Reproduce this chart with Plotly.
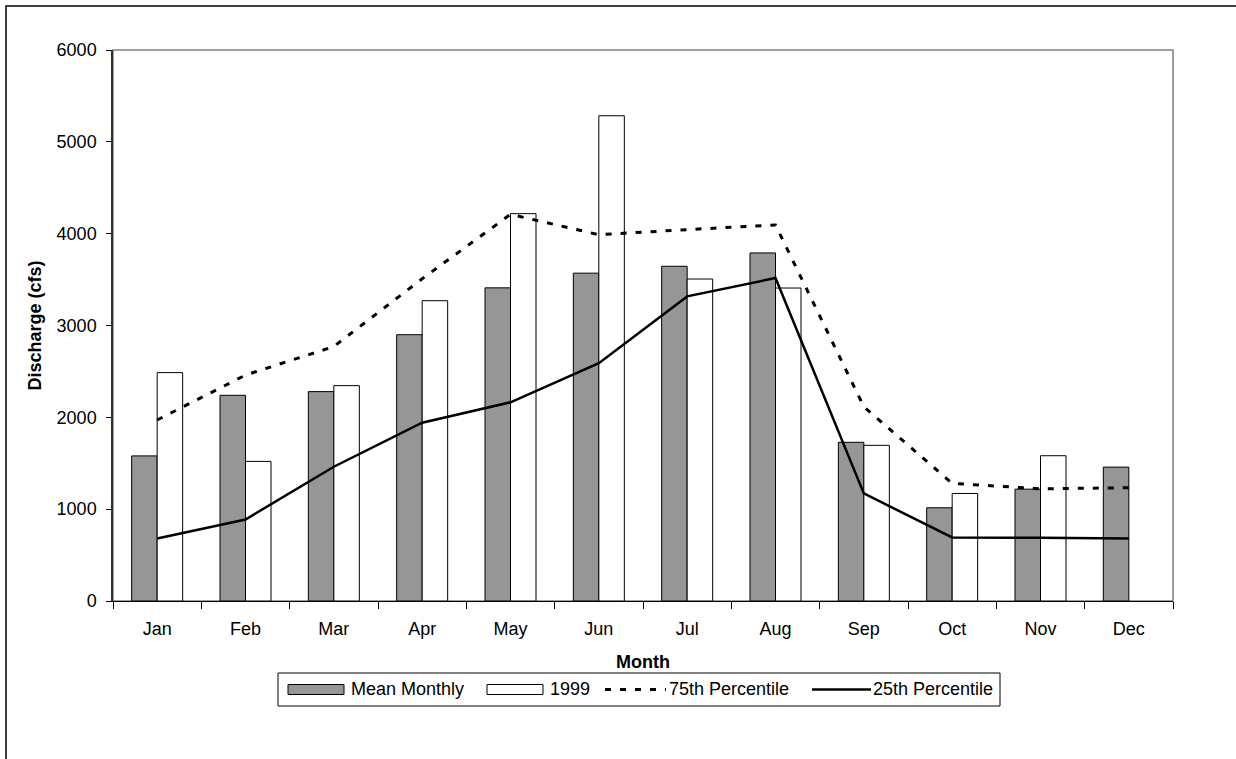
import plotly.graph_objects as go

months = ["Jan", "Feb", "Mar", "Apr", "May", "Jun", "Jul", "Aug", "Sep", "Oct", "Nov", "Dec"]
mean_monthly = [1580, 2240, 2280, 2900, 3410, 3570, 3645, 3790, 1728, 1015, 1218, 1458]
y1999 = [2487, 1520, 2345, 3270, 4218, 5284, 3506, 3408, 1695, 1171, 1582, None]
p75 = [1971, 2460, 2771, 3509, 4210, 3989, 4044, 4095, 2115, 1281, 1222, 1233]
p25 = [680, 888, 1462, 1942, 2164, 2590, 3317, 3517, 1171, 692, 688, 680]

font_family = "Liberation Sans, Arial, sans-serif"
FS = 18

# figure geometry (pixels)
W, H = 1236, 759
ML, MR, MT, MB = 113, 63, 50, 158
PW, PH = W - ML - MR, H - MT - MB


def px(x):
    return (x - ML) / PW


def py(y):
    return (H - MB - y) / PH


fig = go.Figure()
fig.add_trace(go.Bar(x=months, y=mean_monthly, name="Mean Monthly",
                     marker=dict(color="#969696", line=dict(color="#000000", width=1))))
fig.add_trace(go.Bar(x=months, y=y1999, name="1999",
                     marker=dict(color="#ffffff", line=dict(color="#000000", width=1))))
fig.add_trace(go.Scatter(x=months, y=p75, name="75th Percentile", mode="lines",
                         line=dict(color="#000000", width=3, dash="6px,9px")))
fig.add_trace(go.Scatter(x=months, y=p25, name="25th Percentile", mode="lines",
                         line=dict(color="#000000", width=2.5)))

# custom legend (Excel-style long swatches)
ly0, ly1 = 673, 706
lyc = (ly0 + ly1) / 2
shapes = [
    dict(type="rect", xref="paper", yref="paper", x0=0, x1=1, y0=0, y1=1,
         line=dict(color="#808080", width=1.5), layer="below"),
    dict(type="rect", xref="paper", yref="paper", x0=px(6), x1=px(1250), y0=py(775), y1=py(6),
         line=dict(color="#000000", width=1.5), layer="below"),
    dict(type="rect", xref="paper", yref="paper", x0=px(278), x1=px(1000), y0=py(ly1), y1=py(ly0),
         line=dict(color="#000000", width=1), fillcolor="white", layer="below"),
    dict(type="rect", xref="paper", yref="paper", x0=px(288), x1=px(344), y0=py(lyc + 5), y1=py(lyc - 5),
         line=dict(color="#000000", width=1), fillcolor="#969696"),
    dict(type="rect", xref="paper", yref="paper", x0=px(487), x1=px(543), y0=py(lyc + 5), y1=py(lyc - 5),
         line=dict(color="#000000", width=1), fillcolor="#ffffff"),
    dict(type="line", xref="paper", yref="paper", x0=px(605), x1=px(666), y0=py(lyc), y1=py(lyc),
         line=dict(color="#000000", width=3, dash="6px,9px")),
    dict(type="line", xref="paper", yref="paper", x0=px(812), x1=px(871), y0=py(lyc), y1=py(lyc),
         line=dict(color="#000000", width=2.5)),
]
legend_texts = [(350, "Mean Monthly"), (549, "1999"), (668, "75th Percentile"), (872, "25th Percentile")]
annotations = [
    dict(text=t, xref="paper", yref="paper", x=px(x0), y=py(lyc), xanchor="left", yanchor="middle",
         showarrow=False, font=dict(size=FS, color="#000000"), xshift=-1)
    for x0, t in legend_texts
]

fig.update_layout(
    width=W, height=H,
    margin=dict(l=ML, r=MR, t=MT, b=MB),
    paper_bgcolor="white", plot_bgcolor="white",
    barmode="group", bargap=0.4226, bargroupgap=0,
    font=dict(family=font_family, size=FS, color="#000000"),
    showlegend=False,
    xaxis=dict(
        title=dict(text="<b>Month</b>", font=dict(size=FS), standoff=17),
        showline=True, linecolor="#000000", linewidth=1,
        ticks="outside", ticklen=7, tickcolor="#000000", tickson="boundaries",
        ticklabelstandoff=11,
        showgrid=False, zeroline=False, range=[-0.5, 11.5],
    ),
    yaxis=dict(
        title=dict(text="<b>Discharge (cfs)</b>", font=dict(size=FS), standoff=10),
        range=[0, 6000], dtick=1000,
        showline=True, linecolor="#333333", linewidth=1.5,
        ticks="outside", ticklen=5, tickcolor="#000000",
        ticklabelstandoff=6,
        showgrid=False, zeroline=False,
    ),
    shapes=shapes,
    annotations=annotations,
)

fig.write_html("out.html")
